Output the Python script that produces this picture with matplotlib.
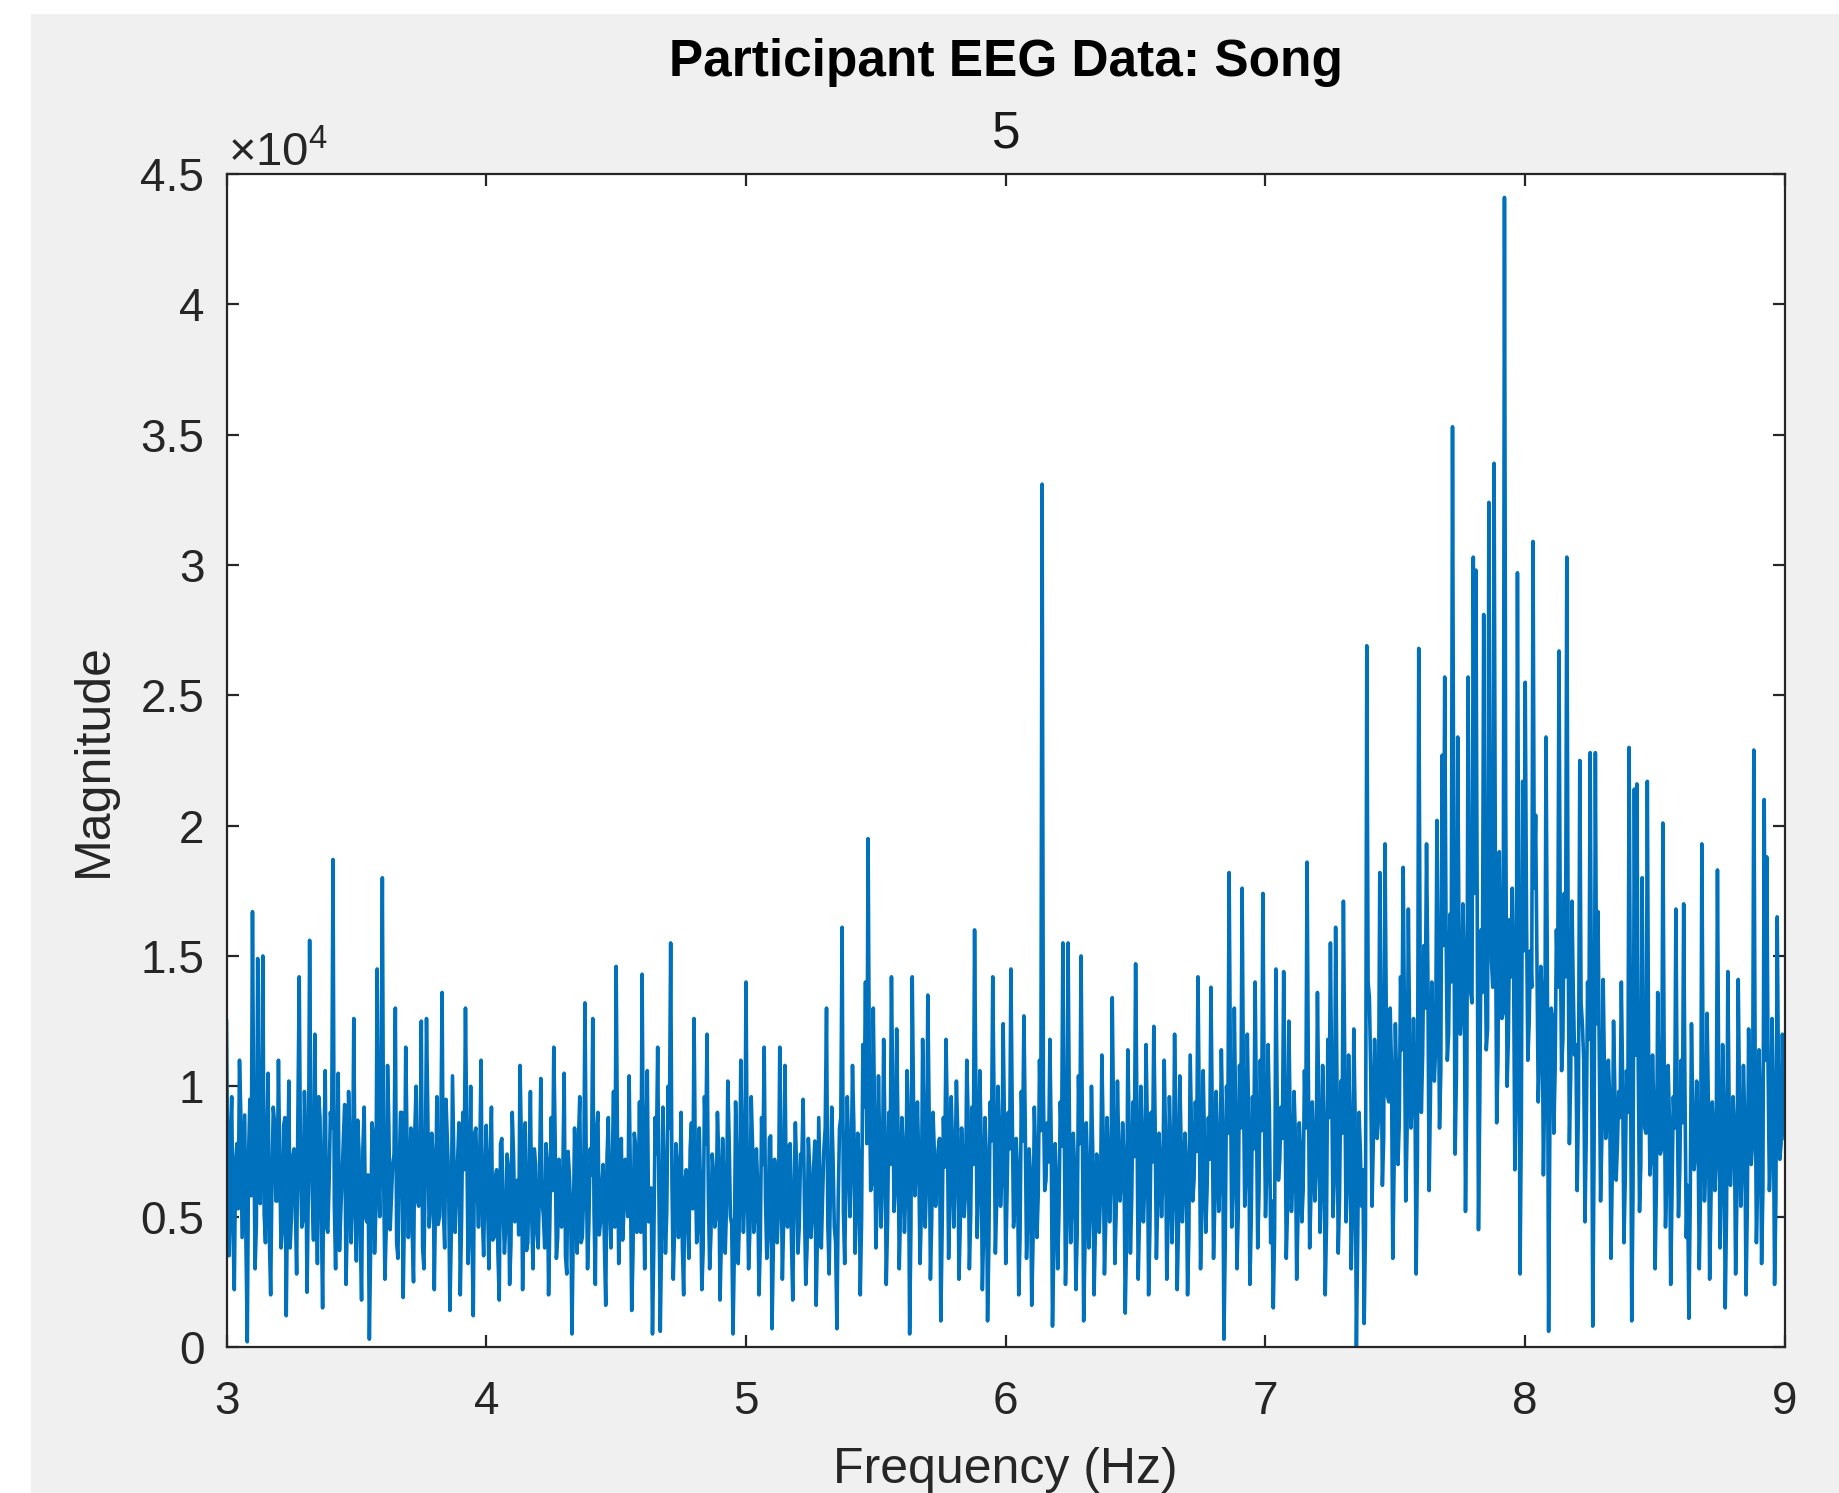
import numpy as np
import matplotlib.pyplot as plt
from matplotlib.patches import Rectangle

plt.rcParams['font.family'] = ['Liberation Sans', 'DejaVu Sans']
plt.rcParams['mathtext.fontset'] = 'custom'
plt.rcParams['mathtext.rm'] = 'Liberation Sans'

# magnitude, in thousands, at 3.00, 3.01, ... Hz
mag_3hz = [12.5, 3.5, 9.6, 2.2, 7.8, 11.0, 4.2, 8.9, 0.2, 9.5, 16.7, 3.0, 14.9, 5.5, 15.0, 4.0, 10.5, 2.0, 9.2, 5.6,
           11.0, 3.8, 8.5, 1.2, 10.2, 5.0, 7.6, 2.8, 14.2, 4.6, 9.8, 2.1, 15.6, 6.0, 12.0, 3.2, 8.8, 1.5, 10.6, 4.4,
           9.0, 18.7, 3.0, 10.5, 5.2, 8.0, 2.4, 9.8, 4.0, 12.6, 3.3, 7.5, 1.8, 9.2, 4.8, 0.3, 8.6, 3.6, 14.5, 5.0,
           18.0, 2.6, 10.8, 4.5, 7.0, 13.0, 3.4, 9.0, 1.9, 11.5, 4.2, 8.4, 2.5, 10.0, 5.4, 12.5, 3.0, 12.6, 4.6, 8.2,
           2.2, 9.6, 5.0, 13.6, 3.8, 8.0, 1.4, 10.4, 4.4, 7.2, 2.0, 9.0, 13.0, 3.2, 10.0, 1.2, 8.4, 4.6, 11.0, 3.5]
mag_4hz = [8.5, 3.0, 9.2, 4.2, 6.8, 1.8, 8.0, 3.6, 7.4, 2.4, 9.0, 4.8, 6.4, 10.8, 2.2, 8.6, 4.0, 9.8, 3.0, 7.0,
           3.8, 10.3, 5.0, 7.8, 2.0, 8.8, 11.5, 3.4, 7.2, 4.6, 10.5, 2.8, 6.6, 0.5, 8.4, 3.6, 9.6, 4.2, 13.2, 3.0,
           7.6, 12.6, 2.4, 9.0, 4.8, 7.0, 1.6, 8.8, 3.8, 9.8, 14.6, 3.2, 8.0, 5.2, 6.6, 10.4, 1.4, 8.2, 4.4, 9.4,
           14.3, 3.0, 10.6, 5.0, 0.5, 8.8, 11.5, 0.6, 9.2, 3.6, 10.0, 15.5, 2.6, 7.8, 4.2, 9.0, 2.0, 6.8, 3.4, 8.6,
           12.6, 4.0, 8.4, 2.2, 9.6, 12.0, 3.0, 7.4, 4.6, 9.0, 1.8, 8.0, 3.6, 10.2, 5.0, 0.5, 9.4, 3.2, 11.0, 4.4]
mag_5hz = [14.0, 3.0, 9.6, 4.4, 7.6, 2.0, 8.8, 11.5, 3.4, 8.0, 0.7, 7.2, 4.0, 11.5, 2.6, 10.8, 4.6, 7.8, 1.8, 8.6,
           3.6, 7.4, 9.5, 2.4, 8.0, 4.2, 6.8, 1.6, 8.8, 3.8, 7.6, 13.0, 2.8, 9.2, 4.6, 0.7, 8.4, 16.1, 3.2, 9.6,
           5.0, 10.8, 3.6, 8.2, 2.0, 11.6, 14.0, 19.5, 6.0, 13.0, 3.8, 10.4, 4.6, 11.8, 2.4, 9.0, 14.2, 5.2, 12.2, 3.0,
           8.8, 4.4, 10.6, 0.5, 14.2, 5.8, 9.4, 3.2, 11.8, 4.6, 13.5, 2.6, 9.0, 5.4, 7.6, 1.0, 8.8, 11.8, 3.4, 9.6,
           4.6, 10.2, 2.6, 8.4, 5.0, 11.0, 3.0, 9.2, 16.0, 4.2, 10.6, 2.2, 8.8, 1.0, 9.4, 14.2, 3.6, 10.0, 5.4, 12.4]
mag_6hz = [3.2, 9.0, 14.5, 4.6, 8.0, 2.0, 9.8, 12.7, 3.4, 7.6, 1.6, 9.2, 4.2, 11.0, 33.1, 6.0, 8.6, 11.8, 0.8, 7.8,
           3.0, 9.4, 15.5, 2.4, 15.5, 4.0, 8.2, 2.2, 10.4, 15.0, 1.0, 8.6, 3.8, 10.0, 2.0, 7.4, 4.4, 11.2, 2.8, 8.8,
           4.8, 13.4, 3.2, 10.2, 5.6, 8.6, 1.3, 11.4, 3.6, 9.4, 14.7, 2.6, 10.0, 4.8, 11.6, 2.0, 9.0, 12.3, 3.4, 8.2,
           5.0, 11.0, 2.6, 9.6, 4.0, 12.0, 2.2, 10.4, 4.8, 8.2, 2.0, 11.2, 5.6, 9.4, 14.2, 3.0, 10.6, 4.4, 8.8, 13.8,
           3.4, 9.8, 5.2, 11.4, 0.3, 10.0, 18.2, 4.6, 13.0, 3.0, 10.8, 17.6, 5.4, 12.0, 2.4, 9.6, 14.0, 3.8, 11.0, 17.4]
mag_7hz = [5.0, 11.6, 4.0, 1.5, 14.5, 6.4, 9.2, 14.4, 3.4, 12.5, 5.2, 9.8, 2.6, 8.6, 4.8, 10.6, 18.6, 3.8, 9.4, 5.6,
           13.6, 4.4, 10.8, 2.0, 11.8, 15.5, 5.0, 16.1, 3.6, 10.2, 17.1, 4.8, 11.2, 3.0, 12.2, 0.0, 9.0, 5.4, 0.9, 26.9,
           13.4, 5.4, 11.8, 8.0, 18.2, 6.2, 19.3, 9.6, 13.0, 3.4, 12.4, 7.0, 14.2, 18.4, 5.6, 16.8, 8.4, 12.6, 2.8, 26.8,
           9.0, 15.4, 19.3, 6.0, 14.0, 10.2, 20.2, 8.4, 22.7, 25.7, 11.0, 16.6, 35.3, 7.4, 23.4, 12.0, 17.0, 5.2, 25.7, 13.6,
           30.3, 29.8, 4.5, 16.0, 28.1, 11.4, 32.4, 14.8, 33.9, 8.6, 19.0, 12.6, 44.1, 10.0, 16.4, 17.6, 6.8, 29.7, 2.8, 21.7]
mag_8hz = [25.5, 11.0, 15.2, 30.9, 20.4, 9.4, 14.6, 6.6, 23.4, 0.6, 13.0, 8.2, 16.0, 26.7, 10.6, 17.4, 30.3, 7.8, 17.1, 11.2,
           6.0, 22.5, 12.4, 4.8, 14.0, 22.8, 0.8, 22.8, 16.7, 5.6, 14.1, 8.0, 11.0, 3.4, 12.5, 6.4, 9.8, 14.0, 4.0, 10.6,
           23.0, 1.0, 21.4, 21.6, 5.2, 18.0, 8.4, 21.7, 6.6, 11.2, 3.0, 13.6, 7.4, 20.1, 4.6, 10.8, 2.4, 9.6, 16.8, 5.0,
           11.0, 17.0, 4.2, 1.1, 12.4, 6.8, 10.2, 3.0, 19.3, 5.6, 12.8, 2.6, 9.4, 6.0, 18.3, 3.8, 11.6, 1.5, 14.4, 6.2,
           9.6, 2.8, 14.1, 5.4, 10.8, 2.0, 12.2, 7.0, 22.9, 4.0, 11.4, 3.2, 21.0, 18.8, 6.0, 12.6, 2.4, 16.5, 7.2, 12.0]
mag_9hz = [8.0]

# in-between bins (3.005, 3.015, ... Hz), the dense core of the band
mid_3hz = [6.2, 8.0, 4.4, 7.1, 5.3, 9.0, 6.6, 3.9, 7.4, 5.8, 8.3, 4.7, 6.9, 9.4, 5.1, 7.7, 4.2, 6.4, 8.6, 5.6,
           7.0, 4.5, 8.8, 6.0, 3.8, 7.3, 5.4, 9.1, 6.7, 4.9, 7.9, 5.9, 8.2, 4.1, 6.8, 9.6, 5.2, 7.5, 4.6, 6.3,
           8.4, 5.5, 7.2, 3.7, 6.5, 9.3, 4.8, 7.8, 5.7, 6.1, 8.7, 4.3, 7.6, 5.0, 6.6, 3.9, 8.1, 5.3, 7.0, 9.2,
           6.4, 4.6, 8.5, 5.8, 7.4, 4.0, 6.9, 9.0, 5.1, 7.7, 6.2, 4.4, 8.3, 5.6, 7.1, 3.8, 6.7, 8.9, 5.4, 7.3,
           6.0, 4.7, 8.0, 5.2, 9.5, 6.5, 4.1, 7.5, 5.9, 8.6, 4.9, 6.8, 7.9, 5.3, 4.3, 8.2, 6.3, 7.2, 5.0, 6.6]
mid_4hz = [5.8, 7.2, 4.1, 6.5, 3.6, 7.8, 5.2, 4.6, 6.9, 3.9, 7.4, 5.5, 4.3, 8.0, 6.1, 3.7, 6.7, 5.0, 7.6, 4.4,
           6.3, 5.6, 3.8, 7.1, 4.9, 6.0, 8.2, 4.2, 5.7, 6.8, 3.5, 7.5, 5.3, 4.5, 6.4, 7.9, 4.0, 5.9, 7.0, 4.7,
           6.6, 5.1, 8.3, 4.3, 6.2, 3.9, 7.3, 5.4, 6.9, 4.6, 8.1, 5.8, 4.1, 7.2, 5.0, 6.5, 3.6, 7.7, 5.5, 4.4,
           6.8, 7.9, 4.8, 6.1, 3.8, 7.4, 5.6, 4.2, 6.7, 5.2, 8.4, 6.3, 4.5, 7.0, 5.7, 3.9, 6.4, 4.9, 7.6, 5.3,
           7.1, 4.6, 6.0, 3.7, 7.8, 5.9, 4.3, 6.6, 5.1, 7.3, 4.0, 6.2, 5.4, 8.0, 4.7, 3.6, 6.9, 5.0, 7.5, 5.8]
mid_5hz = [6.4, 4.5, 7.8, 5.1, 6.2, 3.9, 7.0, 5.7, 4.4, 8.1, 3.6, 6.6, 5.3, 7.4, 4.8, 6.0, 7.7, 4.1, 5.9, 6.8,
           4.6, 7.2, 5.5, 3.8, 6.9, 5.0, 7.9, 4.3, 6.3, 5.8, 8.4, 4.7, 6.1, 7.3, 4.0, 5.6, 8.8, 5.2, 6.7, 7.5,
           6.9, 8.6, 5.4, 7.1, 4.9, 9.2, 7.8, 10.4, 6.3, 8.9, 5.7, 7.4, 6.5, 8.2, 4.8, 7.0, 9.6, 6.1, 8.4, 5.3,
           7.6, 6.0, 8.7, 4.6, 9.3, 6.8, 7.2, 5.1, 8.5, 6.4, 9.0, 4.9, 7.5, 6.2, 8.0, 4.4, 6.9, 8.8, 5.6, 7.7,
           6.5, 8.3, 4.7, 7.3, 5.9, 8.9, 5.0, 7.0, 9.8, 6.2, 8.1, 4.5, 7.4, 3.9, 7.9, 9.4, 5.5, 8.0, 6.6, 8.6]
mid_6hz = [5.9, 7.6, 9.0, 5.4, 6.8, 4.2, 7.9, 8.6, 5.0, 6.6, 4.0, 7.4, 5.8, 8.3, 9.8, 6.4, 7.1, 8.0, 3.8, 6.2,
           5.2, 7.7, 8.9, 4.6, 8.7, 5.6, 6.9, 4.3, 7.8, 8.5, 3.9, 6.7, 5.3, 7.5, 4.4, 6.1, 5.9, 8.2, 4.8, 7.0,
           6.3, 8.8, 5.1, 7.6, 6.5, 7.2, 4.1, 8.4, 5.7, 7.3, 9.1, 5.0, 7.9, 6.2, 8.6, 4.5, 7.1, 8.7, 5.5, 6.8,
           6.6, 8.1, 4.9, 7.7, 5.8, 8.5, 4.6, 7.9, 6.1, 7.0, 4.3, 8.3, 6.4, 7.5, 9.2, 5.3, 8.0, 6.0, 7.2, 9.0,
           5.6, 7.8, 6.5, 8.6, 3.9, 8.2, 10.6, 6.2, 9.1, 5.0, 8.4, 10.2, 6.6, 8.9, 4.8, 7.6, 9.3, 5.9, 8.3, 10.0]
mid_7hz = [6.8, 9.0, 5.6, 4.4, 9.6, 7.2, 8.0, 9.8, 5.4, 8.6, 6.5, 8.1, 4.9, 7.4, 6.0, 8.4, 10.6, 5.8, 7.8, 6.9,
           9.2, 6.2, 8.5, 4.8, 8.8, 10.0, 6.6, 10.4, 5.7, 8.2, 10.8, 6.4, 8.7, 5.3, 8.9, 4.2, 7.6, 6.8, 4.6, 14.0,
           10.6, 7.8, 9.6, 8.8, 12.4, 8.0, 12.8, 9.4, 10.8, 6.8, 10.2, 8.6, 11.4, 12.6, 8.2, 11.8, 9.6, 10.4, 7.4, 15.6,
           11.2, 13.0, 14.4, 9.6, 12.2, 11.4, 14.8, 10.6, 15.4, 16.2, 12.0, 14.0, 17.8, 10.4, 15.6, 12.8, 14.6, 9.8, 16.4, 13.2,
           17.4, 16.8, 9.4, 13.6, 16.6, 12.2, 17.6, 13.8, 18.2, 11.0, 15.0, 12.8, 20.6, 11.8, 14.2, 14.8, 9.8, 16.8, 8.6, 15.2]
mid_8hz = [16.4, 12.4, 13.8, 17.6, 14.8, 11.2, 13.4, 10.0, 14.6, 8.8, 12.6, 10.6, 13.8, 15.8, 11.8, 14.2, 16.2, 10.4, 13.6, 11.6,
           9.4, 13.2, 11.0, 8.2, 11.8, 12.8, 7.4, 12.4, 11.4, 8.0, 10.6, 8.6, 9.6, 6.6, 9.8, 7.8, 8.8, 10.2, 6.4, 9.0,
           11.6, 6.0, 11.2, 10.8, 7.0, 10.4, 8.2, 11.0, 7.4, 9.2, 6.2, 9.8, 7.6, 10.8, 6.6, 8.8, 5.8, 8.4, 9.6, 6.8,
           8.6, 9.8, 6.2, 5.4, 9.0, 7.4, 8.6, 6.0, 10.2, 7.0, 9.4, 5.6, 8.2, 7.2, 10.0, 6.4, 8.8, 5.2, 9.2, 7.6,
           8.4, 5.8, 9.4, 7.0, 8.8, 5.4, 9.0, 7.8, 11.4, 6.4, 9.2, 6.0, 11.0, 10.6, 7.4, 9.4, 5.6, 10.2, 7.8, 9.0]

xticks = [3, 4, 5, 6, 7, 8, 9]
yticks = [0, 5000, 10000, 15000, 20000, 25000, 30000, 35000, 40000, 45000]
ytick_labels = ['0', '0.5', '1', '1.5', '2', '2.5', '3', '3.5', '4', '4.5']


def main():
    bins = np.array(mag_3hz + mag_4hz + mag_5hz + mag_6hz + mag_7hz + mag_8hz)
    mids = np.array(mid_3hz + mid_4hz + mid_5hz + mid_6hz + mid_7hz + mid_8hz)
    mag = np.append(np.column_stack([bins, mids]).ravel(), mag_9hz) * 1000
    freq = np.linspace(3, 9, len(mag))

    fig = plt.figure(figsize=(9.2, 7.465), dpi=200, facecolor='#f0f0f0')
    # white screenshot margins at left and top
    fig.patches.append(Rectangle((0, 0), 29 / 1840, 1, transform=fig.transFigure,
                                 color='white', zorder=-1))
    fig.patches.append(Rectangle((0, 1 - 12 / 1493), 1, 12 / 1493, transform=fig.transFigure,
                                 color='white', zorder=-1))

    ax = fig.add_axes([0.1231, 0.0978, 0.8470, 0.7857])
    ax.plot(freq, mag, color='#0072BD', linewidth=1.3)

    ax.set_xlim(3, 9)
    ax.set_ylim(0, 45000)
    ax.set_xticks(xticks)
    ax.set_yticks(yticks)
    ax.set_yticklabels(ytick_labels)

    grey = '#262626'
    ax.tick_params(direction='in', length=4.3, width=0.8, top=True, right=True,
                   labelsize=16.5, colors=grey)
    ax.tick_params(axis='x', pad=12)
    ax.tick_params(axis='y', pad=8)
    for s in ax.spines.values():
        s.set_color(grey)
        s.set_linewidth(0.8)

    ax.set_xlabel('Frequency (Hz)', fontsize=18, color=grey, va='center')
    ax.xaxis.set_label_coords(0.5, -0.105)
    ax.set_ylabel('Magnitude', fontsize=18, color=grey, va='center')
    ax.yaxis.set_label_coords(-0.085, 0.5)

    ax.text(0.5, 1.095, 'Participant EEG Data: Song', transform=ax.transAxes,
            ha='center', va='center', fontsize=18.5, fontweight='bold', color='black')
    ax.text(0.5, 1.034, '5', transform=ax.transAxes,
            ha='center', va='center', fontsize=18.5, color='#1a1a1a')
    ax.text(0.001, 1.017, r'$\times10^{4}$', transform=ax.transAxes,
            ha='left', va='center', fontsize=17, color=grey)

    fig.savefig('out.png', dpi=200, facecolor=fig.get_facecolor())


if __name__ == '__main__':
    main()
